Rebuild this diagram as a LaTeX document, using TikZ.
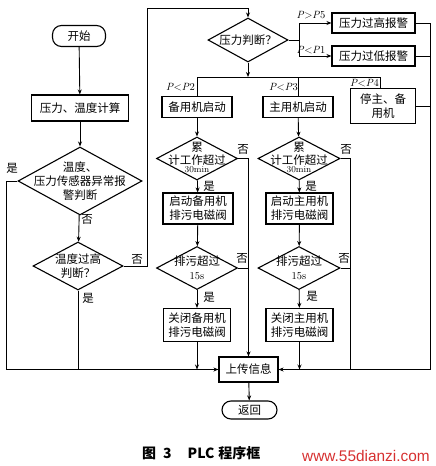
\documentclass[tikz,border=0pt]{standalone}
\usepackage{fontspec}
\newfontfamily\cjk{Noto Sans CJK SC}
\newfontfamily\wmfont{Liberation Sans}
\usetikzlibrary{shapes.geometric,arrows.meta}
\definecolor{wmred}{RGB}{214,48,48}
\tikzset{
  base/.style={draw, line width=1.1pt, inner sep=0pt, align=center, font=\cjk\fontsize{11.5}{14}\selectfont},
  box/.style={base, rectangle},
  stad/.style={base, rectangle, rounded corners=9pt},
  dia/.style={base, diamond},
  txt/.style={font=\cjk\fontsize{11.5}{14}\selectfont, align=center, inner sep=0pt},
  txts/.style={font=\cjk\fontsize{11.5}{12.5}\selectfont, align=center, inner sep=0pt},
  yn/.style={font=\cjk\fontsize{11.5}{13}\selectfont, inner sep=0pt},
  plab/.style={font=\fontsize{10.5}{11}\selectfont, inner sep=0pt},
  ln/.style={line width=0.9pt},
  arr/.style={ln, -{Stealth[length=5pt,width=4pt]}},
}
\begin{document}
\begin{tikzpicture}[x=1pt,y=-1pt]
\useasboundingbox (0,0) rectangle (436,466);
% left column
\node[stad, minimum width=53, minimum height=21] (start) at (79,36) {开始};
\node[box, minimum width=97, minimum height=26] (calc) at (80,108) {压力、温度计算};
\node[dia, minimum width=124, minimum height=68,
  label={[txt]center:{温度、\\压力传感器异常报\\警判断}}] (d1) at (80,181) {};
\node[dia, minimum width=90, minimum height=48,
  label={[txt]center:{温度过高\\判断？}}] (d2) at (78,266) {};
% pressure
\node[dia, minimum width=80, minimum height=44,
  label={[txt]center:{压力判断？}}] (pd) at (248,40) {};
\node[box, minimum width=83, minimum height=20] (hi) at (373.5,23) {压力过高报警};
\node[box, minimum width=83, minimum height=20] (lo) at (373.5,56) {压力过低报警};
\node[box, minimum width=65, minimum height=35] (stop) at (383,106) {停主、备\\用机};
% column 1
\node[box, minimum width=70, minimum height=21] (b1) at (197,107) {备用机启动};
\node[dia, minimum width=81, minimum height=43,
  label={[txts, yshift=1pt]center:{累\\计工作超过\\[-4pt]{\rmfamily\fontsize{9}{10}\selectfont 30min}}}] (c1) at (197,158.5) {};
\node[box, minimum width=70, minimum height=31] (s1) at (198,208.5) {启动备用机\\排污电磁阀};
\node[dia, minimum width=81, minimum height=43,
  label={[txt]center:{排污超过\\{\rmfamily\fontsize{10.5}{11}\selectfont 15s}}}] (c2) at (197,268) {};
\node[box, minimum width=67, minimum height=33] (e1) at (197,325) {关闭备用机\\排污电磁阀};
% column 2
\node[box, minimum width=70, minimum height=21] (m1) at (298,107) {主用机启动};
\node[dia, minimum width=82, minimum height=43,
  label={[txts, yshift=1pt]center:{累\\计工作超过\\[-4pt]{\rmfamily\fontsize{9}{10}\selectfont 30min}}}] (c3) at (299,158.5) {};
\node[box, minimum width=67, minimum height=31] (s2) at (299.5,208.5) {启动主用机\\排污电磁阀};
\node[dia, minimum width=82, minimum height=43,
  label={[txt]center:{排污超过\\{\rmfamily\fontsize{10.5}{11}\selectfont 15s}}}] (c4) at (299,268) {};
\node[box, minimum width=67, minimum height=33] (e2) at (299.5,325) {关闭主用机\\排污电磁阀};
% bottom
\node[box, minimum width=59, minimum height=25] (up) at (248.5,369.5) {上传信息};
\node[stad, minimum width=55, minimum height=18] (ret) at (249.5,410) {返回};
% coordinates
\coordinate (lb) at (6,369.5);
\coordinate (tl) at (147,8);
\coordinate (pj) at (299,40);
\coordinate (bj) at (248,77);
\coordinate (bjl) at (197,77);
\coordinate (bjr) at (380,77);
\coordinate (rt) at (430,369.5);
\coordinate (rj) at (350,369.5);
% connectors left
\draw[arr] (start) -- (calc);
\draw[arr] (calc) -- (d1);
\draw[arr] (d1) -- (d2);
\draw[arr] (d1.west) -| (lb) -- (up.west);
\draw[ln] (d2.south) -- (d2.south |- lb);
\draw[arr] (d2.east) -| (tl) -| (pd.north);
% pressure branches
\draw[ln] (pd.east) -- (pj);
\draw[arr] (pj) |- (hi.west);
\draw[arr] (pj) |- (lo.west);
\draw[arr] (pd.south) -- (bj);
\draw[ln] (bjl) -- (bjr);
\draw[ln] (bjl) -- (b1.north);
\draw[ln] (m1.north |- bj) -- (m1.north);
\draw[ln] (bjr) -- (bjr |- stop.north);
\draw[ln] (hi.east) -| (rt);
\draw[ln] (lo.east) -- (lo.east -| rt);
\draw[ln] (stop.east) -- (stop.east -| rt);
\draw[arr] (rt) -- (up.east);
% column 1
\draw[arr] (b1) -- (c1);
\draw[arr] (c1) -- (s1);
\draw[arr] (s1) -- (c2);
\draw[arr] (c2) -- (e1);
\draw[arr] (e1.south) -- (e1.south |- lb);
\draw[arr] (c1.east) -| (up.north);
\draw[ln] (c2.east) -- (c2.east -| up.north);
% column 2
\draw[arr] (m1) -- (c3);
\draw[arr] (c3) -- (s2);
\draw[arr] (s2) -- (c4);
\draw[arr] (c4) -- (e2);
\draw[arr] (e2.south) -- (e2.south |- rt);
\draw[ln] (c3.east) -| (rj);
\draw[ln] (c4.east) -- (c4.east -| rj);
\draw[arr] (up) -- (ret);
% yes/no labels
\node[yn] (y1) at (12,168) {是};
\node[yn] (n1) at (87,219) {否};
\node[yn] (n2) at (137,259) {否};
\node[yn] (y2) at (88,298) {是};
\node[yn] (n3) at (243,149) {否};
\node[yn] (y3) at (209,186) {是};
\node[yn] (n4) at (242,258) {否};
\node[yn] (y4) at (209,297) {是};
\node[yn] (n5) at (346,149) {否};
\node[yn] (y5) at (311,186) {是};
\node[yn] (n6) at (344,258) {否};
\node[yn] (y6) at (312,296) {是};
% condition labels
\node[plab] (p5) at (311,15) {\textit{P}>\textit{P}5};
\node[plab] (p1) at (311,50) {\textit{P}<\textit{P}1};
\node[plab, anchor=east] (p2) at (195,87) {\textit{P}<\textit{P}2};
\node[plab, anchor=east] (p3) at (298,87) {\textit{P}<\textit{P}3};
\node[plab, anchor=east] (p4) at (379,83) {\textit{P}<\textit{P}4};
% caption
\node[font=\cjk\bfseries\fontsize{14}{16}\selectfont, anchor=west, inner sep=0pt] (cap) at (142,453) {图\hspace{7pt}3\hspace{16pt}PLC\hspace{4pt}程序框};
\node[font=\wmfont\fontsize{15.4}{17}\selectfont, text=wmred, anchor=west, inner sep=0pt] (wm) at (302,456) {www.55dianzi.com};
\end{tikzpicture}
\end{document}
